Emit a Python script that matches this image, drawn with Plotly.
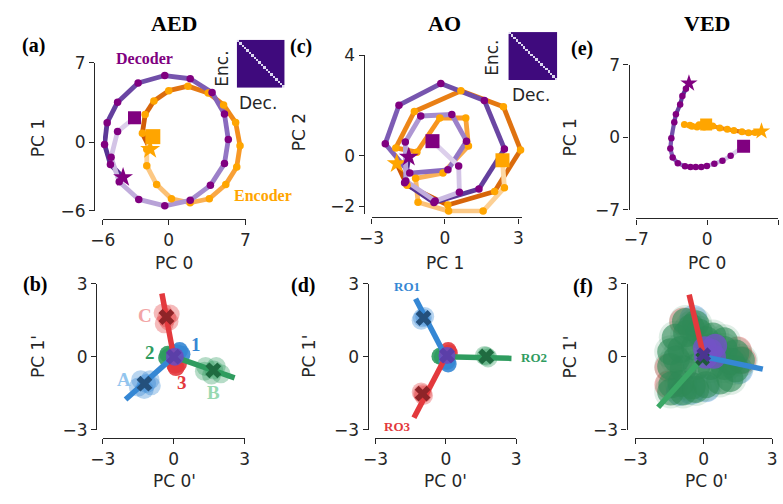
import plotly.graph_objects as go

W, H = 783, 504

# ---------------- data ----------------
# (a) AED: decoder / encoder trajectories (PC0, PC1); first point = star, last = square
aed_dec_x = [-4.16, -5.31, -5.85, -5.61, -4.66, -2.79, -0.36, 1.96, 3.95, 5.08, 5.43, 5.08, 3.80, 1.96, -0.36, -2.73, -4.51, -5.25, -4.66, -3.12]
aed_dec_y = [-3.07, -1.94, -0.17, 1.74, 3.54, 5.23, 5.88, 5.60, 4.39, 2.50, 0.25, -1.86, -3.77, -5.09, -5.57, -5.01, -3.46, -1.29, 0.96, 2.17]
aed_enc_x = [-1.69, -2.40, -2.15, -1.35, 0.00, 1.75, 3.60, 5.00, 6.10, 6.50, 6.20, 5.20, 3.70, 1.95, 0.25, -1.10, -2.00, -2.00, -1.45]
aed_enc_y = [-0.59, 0.80, 2.45, 3.65, 4.55, 4.95, 4.35, 3.30, 1.75, -0.30, -2.15, -3.70, -4.95, -5.30, -4.95, -3.70, -2.05, -0.60, 0.51]

# (c) AO: (PC1, PC2)
ao_dec_x = [-1.48, -1.65, -0.45, 1.39, 2.43, 1.61, -0.17, -1.88, -2.44, -1.44, 0.12, 0.88, 0.28, -0.99, -1.62, -1.60, -0.40, 0.59, 0.56, -0.51]
ao_dec_y = [-0.05, -1.07, -1.86, -1.32, 0.27, 2.20, 2.87, 2.01, 0.48, -0.69, -0.56, 0.58, 1.64, 1.58, 0.55, -1.00, -1.80, -1.45, -0.41, 0.58]
ao_enc_x = [-1.97, -1.55, 0.12, 2.03, 3.09, 2.39, 0.65, -1.25, -2.01, -1.15, -0.21, 0.85, 0.96, -0.08, -1.20, -1.10, 0.15, 1.56, 2.43, 2.35]
ao_enc_y = [-0.31, -1.17, -1.96, -1.42, 0.23, 1.95, 2.58, 1.76, 0.31, 0.14, 1.50, 1.50, 0.39, -0.69, -0.90, -1.85, -2.20, -2.20, -1.27, -0.18]

# (e) VED: (PC0, PC1)
ved_dec_x = [-1.80, -2.10, -2.45, -2.67, -3.09, -3.25, -3.54, -3.64, -3.41, -2.90, -2.19, -1.65, -1.13, -0.58, -0.03, 0.71, 1.51, 2.32, 3.60]
ved_dec_y = [5.21, 4.69, 3.98, 3.15, 2.22, 1.45, -0.09, -1.08, -1.95, -2.50, -2.81, -2.88, -2.88, -2.88, -2.78, -2.56, -2.26, -1.79, -0.87]
ved_enc_x = [5.37, 4.73, 4.09, 3.44, 2.64, 1.99, 1.25, 0.55, -0.30, -1.00, -1.70, -2.25, -1.50, -0.80, -0.40, -0.10]
ved_enc_y = [0.58, 0.46, 0.43, 0.52, 0.65, 0.77, 0.89, 1.08, 1.00, 1.00, 1.15, 1.23, 1.05, 1.20, 1.30, 1.23]

# encoder/decoder similarity insets (diagonal values, off-diagonal level)
aed_sim_diag = [1.0] * 20
aed_sim_off = 0.0
ao_sim_diag = [1.0] * 20
ao_sim_off = 0.0

# (b) AED readout geometry (PC0', PC1')
b_line_end_x = [-0.50, -2.04, 2.58]   # red (C), blue (A), green (B)
b_line_end_y = [2.60, -1.76, -0.87]
b_mean_x = [-0.31, -1.24, 1.68]
b_mean_y = [1.63, -1.11, -0.56]
b_blobC_x = [-0.45, -0.15, -0.40, -0.20, -0.30]
b_blobC_y = [1.80, 1.75, 1.35, 1.45, 1.60]
b_blobA_x = [-1.50, -1.00, -1.25, -0.95, -1.40, -1.15]
b_blobA_y = [-1.25, -0.95, -1.35, -1.20, -0.95, -1.10]
b_blobB_x = [1.35, 1.80, 2.00, 1.60, 1.30, 1.70]
b_blobB_y = [-0.40, -0.40, -0.70, -0.75, -0.60, -0.55]
b_blob1_x = [0.25, 0.35, 0.15]
b_blob1_y = [0.25, 0.10, 0.15]
b_blob2_x = [-0.25, -0.30, -0.15]
b_blob2_y = [0.10, -0.05, 0.05]
b_blob3_x = [0.05, 0.20, 0.10]
b_blob3_y = [-0.35, -0.30, -0.45]

# (d) AO readout geometry
d_line_end_x = [-1.29, 2.80, -1.36]   # blue RO1, green RO2, red RO3
d_line_end_y = [2.38, -0.07, -2.51]
d_mean_x = [-0.95, 1.72, -0.99]
d_mean_y = [1.59, 0.01, -1.52]
d_blob1_x = [-1.05, -0.90, -1.00]
d_blob1_y = [1.50, 1.65, 1.60]
d_blob2_x = [1.65, 1.80, 1.72]
d_blob2_y = [0.05, -0.05, 0.02]
d_blob3_x = [-1.05, -0.95, -0.99]
d_blob3_y = [-1.45, -1.60, -1.52]
d_cgreen_x = [-0.25, -0.15]
d_cgreen_y = [0.02, 0.00]
d_cblue_x = [0.10, 0.05]
d_cblue_y = [-0.30, -0.20]
d_cred_x = [0.10, 0.15]
d_cred_y = [0.25, 0.15]

# (f) VED readout geometry
f_line_end_x = [-0.64, 2.59, -2.00]   # red, blue, green
f_line_end_y = [2.55, -0.51, -2.08]
f_red_x = [-1.55, -1.55, 1.50, -0.90, 1.70]
f_red_y = [-0.45, -1.15, 0.25, 1.45, -0.15]
f_blue_x = [-1.05, 0.10, 1.55, -0.45, -0.55]
f_blue_y = [-1.45, -1.30, -0.55, 1.55, -1.40]
f_green_x = [-0.80, -0.35, -1.25, -0.75, -0.20, 0.40, 0.90, -1.45, -1.00, -0.40, 0.30, 0.90, 1.40, 1.65,
             -1.45, -0.90, -0.30, 0.30, 0.90, 1.40, -1.40, -1.00, -0.50, 0.10, 0.70, 1.15, -1.45, -0.90, -0.35,
             -0.55, 0.10, -1.20, 0.60, 1.20]
f_green_y = [1.45, 1.35, 0.80, 0.95, 1.00, 0.85, 0.65, 0.20, 0.30, 0.40, 0.40, 0.30, 0.15, -0.15,
             -0.40, -0.50, -0.40, -0.40, -0.40, -0.50, -1.15, -1.10, -1.20, -1.15, -1.00, -0.90, -1.45, -1.45, -1.35,
             1.20, 0.70, -0.10, 0.05, -0.20]
f_purple_x = [0.05, 0.50, 0.45, 0.10, 0.30]
f_purple_y = [0.35, 0.45, 0.00, 0.00, 0.25]

# ---------------- styling ----------------
SPINE = "#262626"
TXT = "#262626"
PURPLE = "#800080"
ORANGE = "#ffa500"
RED = "#e3393d"
BLUE = "#3587d4"
GREEN = "#2f9c5f"
DRED = "#8e2428"
DBLUE = "#24507c"
DGREEN = "#1f6b40"
CPURP = "#6a4cbf"
PURP_GRAD = ["#502a8c", "#8a6abf", "#dccfeb"]
ORNG_GRAD = ["#cc5604", "#f7941e", "#fdd8a4"]
FS = 17


def px_x(p):
    return p / W


def px_y(p):
    return 1 - p / H


def hex2rgb(h):
    h = h.lstrip('#')
    return [int(h[i:i + 2], 16) for i in (0, 2, 4)]


def grad(stops, t):
    seg = min(int(t * (len(stops) - 1)), len(stops) - 2)
    lt = t * (len(stops) - 1) - seg
    a, b = hex2rgb(stops[seg]), hex2rgb(stops[seg + 1])
    c = [round(a[i] + (b[i] - a[i]) * lt) for i in range(3)]
    return "rgb(%d,%d,%d)" % tuple(c)


fig = go.Figure()


def traj(xs, ys, stops, xa, ya, lw=4.8):
    n = len(xs)
    for i in range(n - 1):
        fig.add_trace(go.Scatter(x=[xs[i], xs[i + 1]], y=[ys[i], ys[i + 1]], mode='lines',
                                 line=dict(color=grad(stops, i / max(n - 2, 1)), width=lw),
                                 xaxis=xa, yaxis=ya, showlegend=False, hoverinfo='skip'))


def dots(xs, ys, dotc, xa, ya, ds=7.5, ms=13, ss=15):
    fig.add_trace(go.Scatter(x=xs[1:-1], y=ys[1:-1], mode='markers', cliponaxis=False,
                             marker=dict(color=dotc, size=ds, line=dict(width=0)),
                             xaxis=xa, yaxis=ya, showlegend=False))
    fig.add_trace(go.Scatter(x=[xs[-1]], y=[ys[-1]], mode='markers', cliponaxis=False,
                             marker=dict(color=dotc, size=ms, symbol='square', line=dict(width=0)),
                             xaxis=xa, yaxis=ya, showlegend=False))
    fig.add_trace(go.Scatter(x=[xs[0]], y=[ys[0]], mode='markers', cliponaxis=False,
                             marker=dict(color=dotc, size=ss, symbol='star', line=dict(width=0)),
                             xaxis=xa, yaxis=ya, showlegend=False))


# (a)
traj(aed_enc_x, aed_enc_y, ORNG_GRAD, 'x', 'y')
traj(aed_dec_x, aed_dec_y, PURP_GRAD, 'x', 'y')
dots(aed_enc_x, aed_enc_y, ORANGE, 'x', 'y', ms=15)
dots(aed_dec_x, aed_dec_y, PURPLE, 'x', 'y')
# (c)
traj(ao_enc_x, ao_enc_y, ORNG_GRAD, 'x2', 'y2')
traj(ao_dec_x, ao_dec_y, PURP_GRAD, 'x2', 'y2')
dots(ao_enc_x, ao_enc_y, ORANGE, 'x2', 'y2', ms=14)
dots(ao_dec_x, ao_dec_y, PURPLE, 'x2', 'y2', ms=14)
# (e)
traj(ved_enc_x, ved_enc_y, ORNG_GRAD, 'x3', 'y3', lw=4.2)
traj(ved_dec_x, ved_dec_y, PURP_GRAD, 'x3', 'y3', lw=4.2)
dots(ved_enc_x, ved_enc_y, ORANGE, 'x3', 'y3', ds=7, ms=12, ss=13)
dots(ved_dec_x, ved_dec_y, PURPLE, 'x3', 'y3', ds=6.5, ms=13, ss=13)


def blob(xs, ys, color, op, size, xa, ya):
    fig.add_trace(go.Scatter(x=xs, y=ys, mode='markers', cliponaxis=False,
                             marker=dict(color=color, size=size, opacity=op, line=dict(width=0)),
                             xaxis=xa, yaxis=ya, showlegend=False))


def spoke(ex, ey, color, xa, ya, lw=5.5):
    fig.add_trace(go.Scatter(x=[0, ex], y=[0, ey], mode='lines', line=dict(color=color, width=lw),
                             xaxis=xa, yaxis=ya, showlegend=False))


def xmark(xs, ys, color, xa, ya, size=14):
    fig.add_trace(go.Scatter(x=xs, y=ys, mode='markers', cliponaxis=False,
                             marker=dict(color=color, size=size, symbol='x', line=dict(width=0)),
                             xaxis=xa, yaxis=ya, showlegend=False))


# (b)
blob(b_blobC_x, b_blobC_y, RED, 0.35, 19, 'x4', 'y4')
blob(b_blobA_x, b_blobA_y, BLUE, 0.35, 19, 'x4', 'y4')
blob(b_blobB_x, b_blobB_y, GREEN, 0.35, 19, 'x4', 'y4')
blob(b_blob1_x, b_blob1_y, BLUE, 0.9, 17, 'x4', 'y4')
blob(b_blob2_x, b_blob2_y, GREEN, 0.9, 17, 'x4', 'y4')
blob(b_blob3_x, b_blob3_y, RED, 0.9, 17, 'x4', 'y4')
spoke(b_line_end_x[0], b_line_end_y[0], RED, 'x4', 'y4')
spoke(b_line_end_x[1], b_line_end_y[1], BLUE, 'x4', 'y4')
spoke(b_line_end_x[2], b_line_end_y[2], GREEN, 'x4', 'y4')
blob([0.05], [0.0], CPURP, 0.9, 18, 'x4', 'y4')
xmark([b_mean_x[0]], [b_mean_y[0]], DRED, 'x4', 'y4')
xmark([b_mean_x[1]], [b_mean_y[1]], DBLUE, 'x4', 'y4')
xmark([b_mean_x[2]], [b_mean_y[2]], DGREEN, 'x4', 'y4')
xmark([0.0], [0.0], "#5b3fa8", 'x4', 'y4')

# (d)
blob(d_blob1_x, d_blob1_y, BLUE, 0.35, 19, 'x5', 'y5')
blob(d_blob2_x, d_blob2_y, GREEN, 0.35, 19, 'x5', 'y5')
blob(d_blob3_x, d_blob3_y, RED, 0.35, 19, 'x5', 'y5')
blob(d_cgreen_x, d_cgreen_y, GREEN, 0.9, 17, 'x5', 'y5')
blob(d_cblue_x, d_cblue_y, BLUE, 0.9, 17, 'x5', 'y5')
blob(d_cred_x, d_cred_y, RED, 0.9, 17, 'x5', 'y5')
spoke(d_line_end_x[0], d_line_end_y[0], BLUE, 'x5', 'y5')
spoke(d_line_end_x[1], d_line_end_y[1], GREEN, 'x5', 'y5')
spoke(d_line_end_x[2], d_line_end_y[2], RED, 'x5', 'y5')
blob([0.05], [0.05], CPURP, 0.9, 17, 'x5', 'y5')
xmark([d_mean_x[0]], [d_mean_y[0]], DBLUE, 'x5', 'y5')
xmark([d_mean_x[1]], [d_mean_y[1]], DGREEN, 'x5', 'y5')
xmark([d_mean_x[2]], [d_mean_y[2]], DRED, 'x5', 'y5')
xmark([0.05], [0.05], "#5b3fa8", 'x5', 'y5')

# (f)
blob(f_red_x, f_red_y, RED, 0.35, 28, 'x6', 'y6')
blob(f_blue_x, f_blue_y, BLUE, 0.35, 28, 'x6', 'y6')
blob(f_green_x, f_green_y, "#2e8b57", 0.15, 33, 'x6', 'y6')
blob(f_green_x, f_green_y, "#2e8b57", 0.6, 27, 'x6', 'y6')
blob(f_purple_x, f_purple_y, "#7352c6", 0.8, 24, 'x6', 'y6')
spoke(f_line_end_x[0], f_line_end_y[0], RED, 'x6', 'y6')
spoke(f_line_end_x[1], f_line_end_y[1], BLUE, 'x6', 'y6')
spoke(f_line_end_x[2], f_line_end_y[2], "#3aa865", 'x6', 'y6')
xmark([-0.05, 0.0], [-0.08, 0.08], ["#1f5a3a", "#4b3590"], 'x6', 'y6', size=13)


# insets
def simmat(diag, off):
    n = len(diag)
    return [[diag[i] if i == j else off for j in range(n)] for i in range(n)]


INSET_CS = [[0, "#3f0a7d"], [1, "#dcd6f0"]]
fig.add_trace(go.Heatmap(z=simmat(aed_sim_diag, aed_sim_off), colorscale=INSET_CS, showscale=False,
                         xaxis='x7', yaxis='y7', zmin=0, zmax=1))
fig.add_trace(go.Heatmap(z=simmat(ao_sim_diag, ao_sim_off), colorscale=INSET_CS, showscale=False,
                         xaxis='x8', yaxis='y8', zmin=0, zmax=1))


def axis(x0, x1, rng, pos, ticks):
    return dict(domain=[x0, x1], range=rng, anchor='free', position=pos, showline=True,
                linecolor=SPINE, linewidth=1.3, ticks='outside', ticklen=5, tickwidth=1.3,
                tickcolor=SPINE, tickvals=ticks, showgrid=False, zeroline=False,
                tickfont=dict(family='DejaVu Sans', size=FS, color=TXT), fixedrange=True)


def xax(l, r, rng, spine_y, ticks):
    return axis(px_x(l), px_x(r), rng, px_y(spine_y), ticks)


def yax(top, bot, rng, spine_x, ticks):
    return axis(px_y(bot), px_y(top), rng, px_x(spine_x), ticks)


lay = dict(
    width=W, height=H, margin=dict(l=0, r=0, t=0, b=0),
    paper_bgcolor='white', plot_bgcolor='white', showlegend=False,
    xaxis=xax(92, 238, [-6, 7], 218, [-6, 0, 7]),
    yaxis=yax(55, 209, [-6, 7], 83, [-6, 0, 7]),
    xaxis2=xax(367, 521, [-3, 3.15], 216, [-3, 0, 3]),
    yaxis2=yax(47, 212, [-2.3, 4], 359, [-2, 0, 4]),
    xaxis3=xax(638, 783, [-7, 7], 217, [-7, 0, 7]),
    yaxis3=yax(57, 208, [-7, 7], 630, [-7, 0, 7]),
    xaxis4=xax(92, 237, [-3, 3], 446, [-3, 0, 3]),
    yaxis4=yax(285, 437, [-3, 3], 85, [-3, 0, 3]),
    xaxis5=xax(371, 515, [-3, 3], 446, [-3, 0, 3]),
    yaxis5=yax(285, 437, [-3, 3], 363, [-3, 0, 3]),
    xaxis6=xax(637, 777, [-3, 3], 446, [-3, 0, 3]),
    yaxis6=yax(285, 437, [-3, 3], 628, [-3, 0, 3]),
    xaxis7=dict(domain=[px_x(229), px_x(278)], anchor='y7', visible=False, fixedrange=True),
    yaxis7=dict(domain=[px_y(81), px_y(31)], anchor='x7', visible=False, autorange='reversed', fixedrange=True),
    xaxis8=dict(domain=[px_x(507), px_x(557)], anchor='y8', visible=False, fixedrange=True),
    yaxis8=dict(domain=[px_y(73), px_y(23)], anchor='x8', visible=False, autorange='reversed', fixedrange=True),
)
fig.update_layout(**lay)

ann = []


def txt(s, x, y, size, color='black', family='Liberation Serif', angle=0):
    ann.append(dict(text=s, x=px_x(x), y=px_y(y), xref='paper', yref='paper', showarrow=False,
                    xanchor='center', yanchor='middle', textangle=angle,
                    font=dict(family=family, size=size, color=color)))


def dtxt(s, x, y, xa, ya, size, color):
    ann.append(dict(text=s, x=x, y=y, xref=xa, yref=ya, showarrow=False, xanchor='center',
                    yanchor='middle', font=dict(family='Liberation Serif', size=size, color=color)))


# titles & panel letters
txt("<b>AED</b>", 165, 14, 22)
txt("<b>AO</b>", 442, 14, 22)
txt("<b>VED</b>", 710, 14, 22)
for s, x, y in [("(a)", 21, 37), ("(c)", 295, 38), ("(e)", 582, 40), ("(b)", 23, 286), ("(d)", 297, 287), ("(f)", 583, 288)]:
    txt("<b>%s</b>" % s, x, y, 20)

# axis titles
DJ = 'DejaVu Sans'
txt("PC 1", 25, 133, FS, TXT, DJ, -90)
txt("PC 0", 165, 263, FS, TXT, DJ)
txt("PC 2", 293, 127, FS, TXT, DJ, -90)
txt("PC 1", 442, 263, FS, TXT, DJ)
txt("PC 1", 570, 133, FS, TXT, DJ, -90)
txt("PC 0", 710, 263, FS, TXT, DJ)
txt("PC 1'", 25, 361, FS, TXT, DJ, -90)
txt("PC 0'", 165, 490, FS, TXT, DJ)
txt("PC 1'", 303, 361, FS, TXT, DJ, -90)
txt("PC 0'", 443, 490, FS, TXT, DJ)
txt("PC 1'", 570, 361, FS, TXT, DJ, -90)
txt("PC 0'", 710, 490, FS, TXT, DJ)

# inset labels
txt("Enc.", 213, 61, FS, TXT, DJ, -90)
txt("Dec.", 251, 97, FS, TXT, DJ)
txt("Enc.", 490, 50, FS, TXT, DJ, -90)
txt("Dec.", 530, 89, FS, TXT, DJ)

# trajectory labels
txt("<b>Decoder</b>", 135, 50, 16, PURPLE)
txt("<b>Encoder</b>", 256, 193, 16, ORANGE)

# readout labels
dtxt("<b>C</b>", -1.21, 1.68, 'x4', 'y4', 19, "#f2a5a6")
dtxt("<b>A</b>", -2.12, -0.94, 'x4', 'y4', 19, "#93c5ee")
dtxt("<b>B</b>", 1.68, -1.48, 'x4', 'y4', 19, "#98d9b1")
dtxt("<b>1</b>", 0.94, 0.51, 'x4', 'y4', 19, BLUE)
dtxt("<b>2</b>", -1.00, 0.16, 'x4', 'y4', 19, GREEN)
dtxt("<b>3</b>", 0.36, -1.05, 'x4', 'y4', 19, RED)
dtxt("<b>RO1</b>", -1.64, 2.88, 'x5', 'y5', 13, BLUE)
txt("<b>RO2</b>", 533, 362, 13, GREEN)
dtxt("<b>RO3</b>", -2.06, -2.87, 'x5', 'y5', 13, RED)

fig.update_layout(annotations=ann)
fig.write_html("out.html")
